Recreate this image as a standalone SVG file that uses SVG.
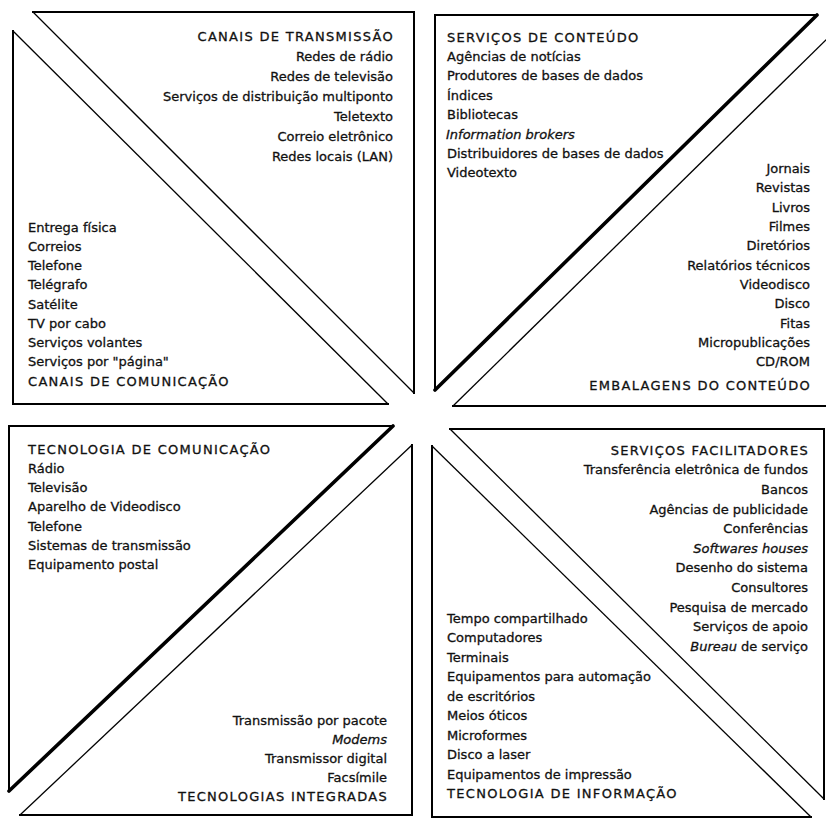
<svg xmlns="http://www.w3.org/2000/svg" width="826" height="819" viewBox="0 0 826 819">
<style>
text{font-family:"DejaVu Sans","Liberation Sans",sans-serif;font-size:13px;fill:#111;stroke:#111;stroke-width:0.3}
.h{letter-spacing:1.3px}
.r{text-anchor:end}
.i{font-style:italic}
.edge{fill:none;stroke:#000;stroke-width:2;stroke-linecap:square}
.thin{stroke:#000;stroke-width:1.3;fill:none}
.thick{stroke:#000;stroke-width:3.6;fill:none;stroke-linecap:round}
</style>
<rect width="826" height="819" fill="#fff"/>

<g id="canais-transmissao">
<path class="edge" d="M33,12 H414 V393"/>
<line class="thin" x1="33" y1="12" x2="414" y2="393"/>
<text class="h r" x="394" y="40.5">CANAIS DE TRANSMISSÃO</text>
<text class="r" x="393" y="60.5">Redes de rádio</text>
<text class="r" x="393" y="80.5">Redes de televisão</text>
<text class="r" x="393" y="100.5">Serviços de distribuição multiponto</text>
<text class="r" x="393" y="120.5">Teletexto</text>
<text class="r" x="393" y="140.5">Correio eletrônico</text>
<text class="r" x="393" y="160.5">Redes locais (LAN)</text>
</g>

<g id="canais-comunicacao">
<path class="edge" d="M13,31 V404 H388"/>
<line class="thin" x1="13" y1="31" x2="388" y2="404"/>
<text x="28" y="231.5">Entrega física</text>
<text x="28" y="250.75">Correios</text>
<text x="28" y="270">Telefone</text>
<text x="28" y="289.25">Telégrafo</text>
<text x="28" y="308.5">Satélite</text>
<text x="28" y="327.75">TV por cabo</text>
<text x="28" y="347">Serviços volantes</text>
<text x="28" y="366.25">Serviços por "página"</text>
<text class="h" x="28" y="385.5">CANAIS DE COMUNICAÇÃO</text>
</g>

<g id="servicos-conteudo">
<path class="edge" d="M435,390 V15 H817"/>
<line class="thick" x1="817" y1="15" x2="435" y2="390"/>
<text class="h" x="447" y="41.5">SERVIÇOS DE CONTEÚDO</text>
<text x="447" y="60.9">Agências de notícias</text>
<text x="447" y="80.3">Produtores de bases de dados</text>
<text x="447" y="99.7">Índices</text>
<text x="447" y="119.1">Bibliotecas</text>
<text class="i" x="446" y="138.5">Information brokers</text>
<text x="447" y="157.9">Distribuidores de bases de dados</text>
<text x="447" y="177.3">Videotexto</text>
</g>

<g id="embalagens-conteudo">
<path class="edge" d="M453,406 H830"/>
<line class="thin" x1="453" y1="406" x2="830" y2="36"/>
<text class="r" x="810" y="173">Jornais</text>
<text class="r" x="810" y="192.3">Revistas</text>
<text class="r" x="810" y="211.6">Livros</text>
<text class="r" x="810" y="231">Filmes</text>
<text class="r" x="810" y="250.3">Diretórios</text>
<text class="r" x="810" y="269.6">Relatórios técnicos</text>
<text class="r" x="810" y="288.9">Videodisco</text>
<text class="r" x="810" y="308.2">Disco</text>
<text class="r" x="810" y="327.6">Fitas</text>
<text class="r" x="810" y="346.9">Micropublicações</text>
<text class="r" x="810" y="366.2">CD/ROM</text>
<text class="h r" x="811" y="389.5">EMBALAGENS DO CONTEÚDO</text>
</g>

<g id="tecnologia-comunicacao">
<path class="edge" d="M393,426 H9 V791"/>
<line class="thick" x1="393" y1="426" x2="9" y2="791"/>
<text class="h" x="28" y="453.5">TECNOLOGIA DE COMUNICAÇÃO</text>
<text x="28" y="472.8">Rádio</text>
<text x="28" y="492.1">Televisão</text>
<text x="28" y="511.4">Aparelho de Videodisco</text>
<text x="28" y="530.7">Telefone</text>
<text x="28" y="550">Sistemas de transmissão</text>
<text x="28" y="569.3">Equipamento postal</text>
</g>

<g id="tecnologias-integradas">
<path class="edge" d="M412,445 V815 H20"/>
<line class="thin" x1="412" y1="445" x2="20" y2="815"/>
<text class="r" x="387" y="724.5">Transmissão por pacote</text>
<text class="r i" x="387" y="743.7">Modems</text>
<text class="r" x="387" y="762.9">Transmissor digital</text>
<text class="r" x="387" y="782.1">Facsímile</text>
<text class="h r" x="388" y="801.3">TECNOLOGIAS INTEGRADAS</text>
</g>

<g id="servicos-facilitadores">
<path class="edge" d="M450,429 H824 V799"/>
<line class="thin" x1="450" y1="429" x2="824" y2="799"/>
<text class="h r" x="809" y="454.5">SERVIÇOS FACILITADORES</text>
<text class="r" x="808" y="474.2">Transferência eletrônica de fundos</text>
<text class="r" x="808" y="493.8">Bancos</text>
<text class="r" x="808" y="513.5">Agências de publicidade</text>
<text class="r" x="808" y="533.1">Conferências</text>
<text class="r i" x="808" y="552.8">Softwares houses</text>
<text class="r" x="808" y="572.4">Desenho do sistema</text>
<text class="r" x="808" y="592.1">Consultores</text>
<text class="r" x="808" y="611.7">Pesquisa de mercado</text>
<text class="r" x="808" y="631.4">Serviços de apoio</text>
<text class="r" x="808" y="651"><tspan class="i">Bureau</tspan> de serviço</text>
</g>

<g id="tecnologia-informacao">
<path class="edge" d="M432,446 V817 H811"/>
<line class="thin" x1="432" y1="446" x2="811" y2="817"/>
<text x="447" y="622.8">Tempo compartilhado</text>
<text x="447" y="642.3">Computadores</text>
<text x="447" y="661.8">Terminais</text>
<text x="447" y="681.3">Equipamentos para automação</text>
<text x="447" y="700.8">de escritórios</text>
<text x="447" y="720.3">Meios óticos</text>
<text x="447" y="739.8">Microformes</text>
<text x="447" y="759.3">Disco a laser</text>
<text x="447" y="778.8">Equipamentos de impressão</text>
<text class="h" x="447" y="798.3">TECNOLOGIA DE INFORMAÇÃO</text>
</g>
</svg>
